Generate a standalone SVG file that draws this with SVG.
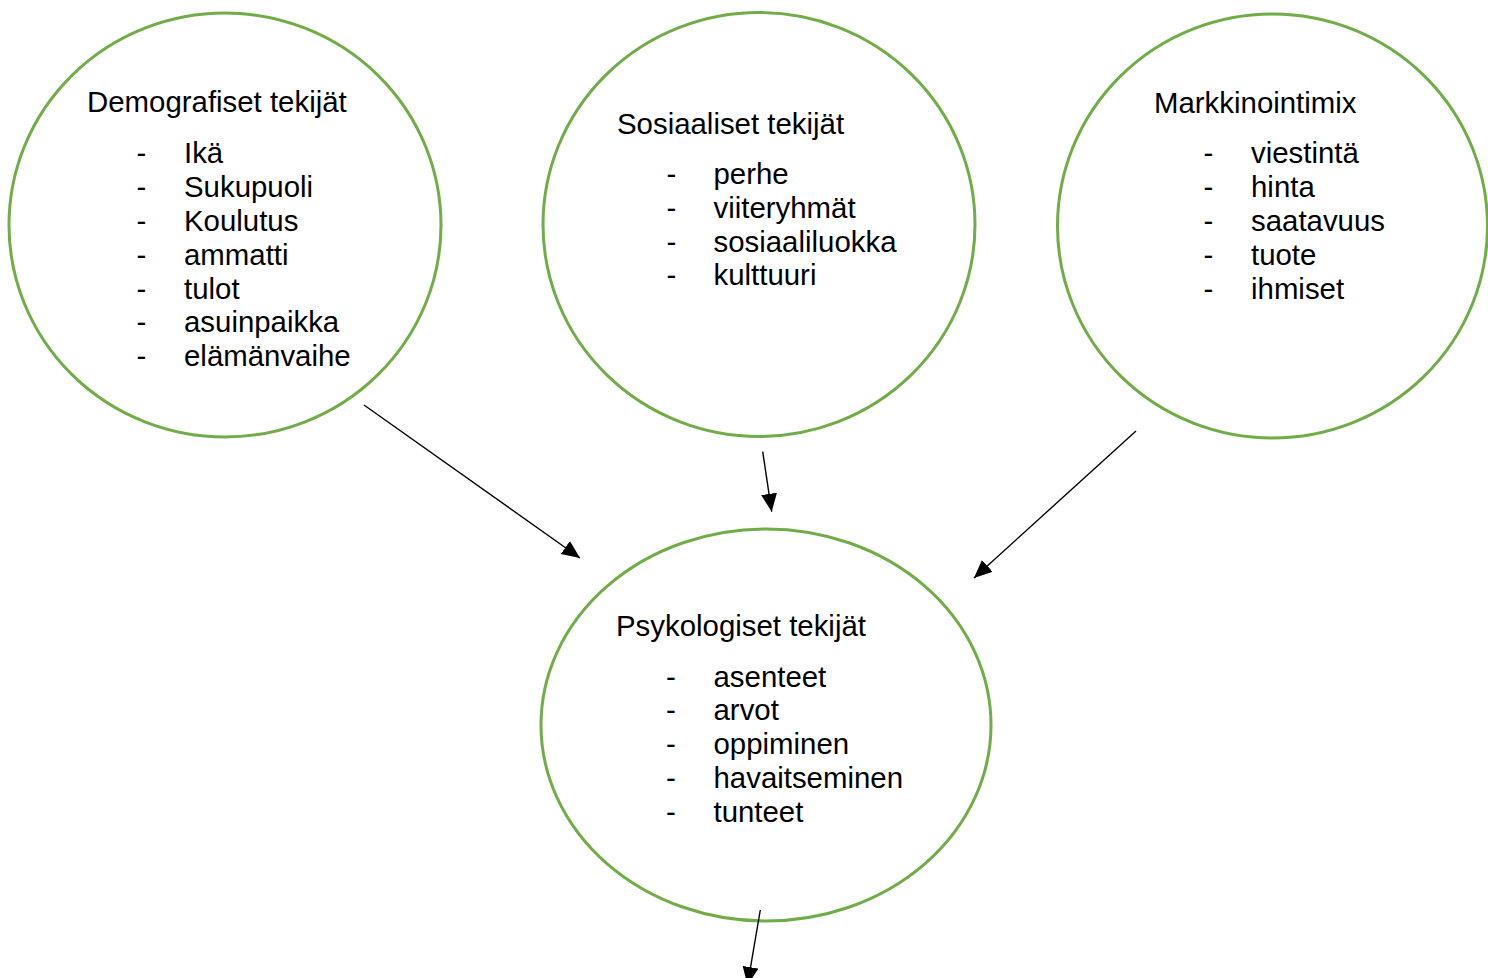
<svg xmlns="http://www.w3.org/2000/svg" width="1488" height="978" viewBox="0 0 1488 978">
<style>
.c{fill:#fff;stroke:#70AD47;stroke-width:3}
.t{font-family:"Liberation Sans",Arial,sans-serif;font-size:29.4px;fill:#000}
.l{stroke:#000;stroke-width:1.4;fill:none;marker-end:url(#ah)}
</style>
<defs>
<marker id="ah" markerUnits="userSpaceOnUse" markerWidth="19" markerHeight="17" refX="18" refY="8" orient="auto">
<path d="M0,0 L18,8 L0,16 Z" fill="#000"/>
</marker>
</defs>
<rect width="1488" height="978" fill="#fff"/>
<g id="demografiset">
<ellipse class="c" cx="225" cy="225" rx="216" ry="212"/>
<text class="t" x="87" y="112">Demografiset tekijät</text>
<text class="t" x="136.5" y="163">-</text><text class="t" x="184" y="163">Ikä</text>
<text class="t" x="136.5" y="197">-</text><text class="t" x="184" y="197">Sukupuoli</text>
<text class="t" x="136.5" y="231">-</text><text class="t" x="184" y="231">Koulutus</text>
<text class="t" x="136.5" y="264.5">-</text><text class="t" x="184" y="264.5">ammatti</text>
<text class="t" x="136.5" y="298.5">-</text><text class="t" x="184" y="298.5">tulot</text>
<text class="t" x="136.5" y="332">-</text><text class="t" x="184" y="332">asuinpaikka</text>
<text class="t" x="136.5" y="366">-</text><text class="t" x="184" y="366">elämänvaihe</text>
</g>
<g id="sosiaaliset">
<ellipse class="c" cx="759" cy="224.5" rx="216" ry="212"/>
<text class="t" x="617" y="134.3">Sosiaaliset tekijät</text>
<text class="t" x="666.5" y="184.3">-</text><text class="t" x="713.5" y="184.3">perhe</text>
<text class="t" x="666.5" y="218">-</text><text class="t" x="713.5" y="218">viiteryhmät</text>
<text class="t" x="666.5" y="251.7">-</text><text class="t" x="713.5" y="251.7">sosiaaliluokka</text>
<text class="t" x="666.5" y="285.3">-</text><text class="t" x="713.5" y="285.3">kulttuuri</text>
</g>
<g id="markkinointimix">
<ellipse class="c" cx="1272.5" cy="226" rx="215" ry="212"/>
<text class="t" x="1154" y="113">Markkinointimix</text>
<text class="t" x="1203.5" y="163">-</text><text class="t" x="1251" y="163">viestintä</text>
<text class="t" x="1203.5" y="197">-</text><text class="t" x="1251" y="197">hinta</text>
<text class="t" x="1203.5" y="231">-</text><text class="t" x="1251" y="231">saatavuus</text>
<text class="t" x="1203.5" y="264.5">-</text><text class="t" x="1251" y="264.5">tuote</text>
<text class="t" x="1203.5" y="298.5">-</text><text class="t" x="1251" y="298.5">ihmiset</text>
</g>
<g id="psykologiset">
<ellipse class="c" cx="766" cy="725" rx="225" ry="196"/>
<text class="t" x="616" y="636">Psykologiset tekijät</text>
<text class="t" x="666" y="686.7">-</text><text class="t" x="713.5" y="686.7">asenteet</text>
<text class="t" x="666" y="720.3">-</text><text class="t" x="713.5" y="720.3">arvot</text>
<text class="t" x="666" y="754">-</text><text class="t" x="713.5" y="754">oppiminen</text>
<text class="t" x="666" y="787.7">-</text><text class="t" x="713.5" y="787.7">havaitseminen</text>
<text class="t" x="666" y="821.5">-</text><text class="t" x="713.5" y="821.5">tunteet</text>
</g>
<g id="connectors">
<line class="l" x1="364" y1="405" x2="580" y2="558"/>
<line class="l" x1="762.7" y1="451.7" x2="771.7" y2="511.7"/>
<line class="l" x1="1136" y1="431" x2="974" y2="578"/>
<line class="l" x1="760.3" y1="910" x2="747.5" y2="985"/>
</g>
</svg>
